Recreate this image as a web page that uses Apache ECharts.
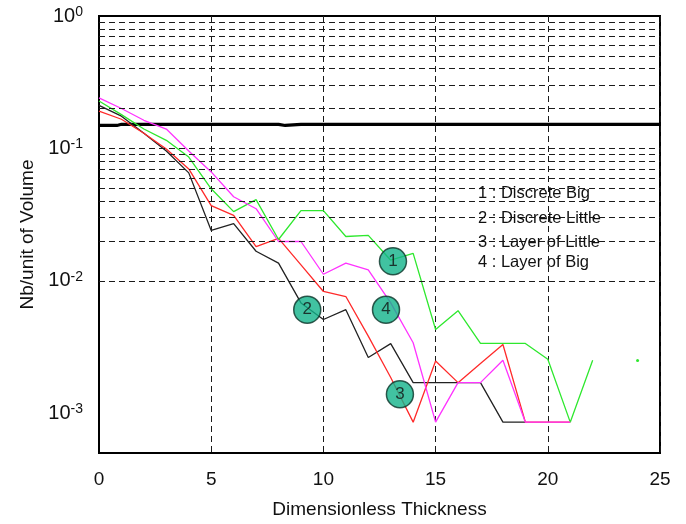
<!DOCTYPE html>
<html><head><meta charset="utf-8">
<script src="https://cdn.jsdelivr.net/npm/echarts@6/dist/echarts.min.js"></script>
<style>html,body{margin:0;padding:0;background:#fff}#c{width:686px;height:524px}</style>
</head><body><div id="c"></div>
<script>
// ---- data ----
const xSteps = [0,1,2,3,4,5,6,7,8,9,10,11,12,13,14,15,16,17,18,19,20,21,22,23,24];
// 1 : Discrete Big (green)
const discreteBig = [0.228,0.18,0.14,0.115,0.086,0.0495,0.0333,0.041,0.0205,0.0339,0.0339,0.0216,0.022,0.0143,0.0161,0.00428,0.00594,0.00336,0.00336,0.00336,0.00255,0.000855,0.00251,null,0.0025];
// 2 : Discrete Little (black)
const discreteLittle = [0.211,0.175,0.13,0.0955,0.0653,0.024,0.027,0.0167,0.0136,0.0068,0.0051,0.00605,0.00263,0.00335,0.0017,0.0017,0.0017,0.0017,0.000855,0.000855];
// 3 : Layer of Little (red)
const layerLittle = [0.191,0.166,0.13,0.0989,0.07,0.0369,0.0312,0.0181,0.0209,0.0132,0.0083,0.0076,0.00382,0.00186,0.000855,0.00248,0.0017,0.00237,0.0033,0.000855,0.000855,0.000855];
// 4 : Layer of Big (magenta)
const layerBig = [0.241,0.2,0.163,0.14,0.0955,0.0664,0.0431,0.035,0.0198,0.0198,0.0112,0.0136,0.0121,0.0068,0.0034,0.000855,0.0017,0.0017,0.00251,0.000855,0.000855,0.000855];
// thick horizontal reference line
const refX = [0,0.8,1,8,8.3,9,25];
const refY = [0.149,0.149,0.152,0.152,0.149,0.152,0.152];
// numbered callouts
const calloutNames = ['1','2','3','4'];
const calloutX = [13.1,9.28,13.41,12.79];
const calloutY = [0.01403,0.00605,0.00139,0.00605];
const legendLabels = ['1 : Discrete Big','2 : Discrete Little','3 : Layer of Little','4 : Layer of Big'];
const xTicks = [0,5,10,15,20,25];
const xTitle = 'Dimensionless Thickness';
const yTitle = 'Nb/unit of Volume';
const yMin = 0.0005, yMax = 1;

// log grid lines (1..9 x 10^k)
const yGrid = [];
for (let k = -4; k <= -1; k++) for (let m = 1; m <= 9; m++) {
  const v = +(m * Math.pow(10, k)).toPrecision(3);
  if (v > yMin && v < yMax) yGrid.push(v);
}
const pairs = (ys) => ys.map((y, i) => [xSteps[i], y]);

const chart = echarts.init(document.getElementById('c'), null, {renderer: 'canvas'});
const font = 'Liberation Sans, Arial, sans-serif';
const dashStyle = {color: '#1a1a1a', width: 1, type: [6, 4]};

const lineSeries = (name, ys, color) => ({
  name, type: 'line', data: pairs(ys), symbol: 'none', connectNulls: false,
  lineStyle: {color, width: 1.3}, silent: true, animation: false, z: 3
});

const greenData = pairs(discreteBig).map((p, i) =>
  (i === xSteps.length - 1) ? {value: p, symbol: 'circle', symbolSize: 3, itemStyle: {color: '#2ee82e'}} : p);

chart.setOption({
  animation: false,
  grid: {left: 99, right: 26, top: 16, bottom: 68, show: true, borderColor: '#000', borderWidth: 2, backgroundColor: 'transparent'},
  xAxis: {
    type: 'value', min: 0, max: 25, interval: 5,
    name: xTitle, nameLocation: 'middle', nameGap: 47,
    nameTextStyle: {fontSize: 19, fontFamily: font, color: '#111'},
    axisLine: {show: true, onZero: false, lineStyle: {color: '#000', width: 2}},
    axisTick: {show: false},
    axisLabel: {fontSize: 19, fontFamily: font, color: '#111', margin: 17,
      formatter: v => xTicks.includes(v) ? String(v) : ''},
    splitLine: {show: true, lineStyle: dashStyle}
  },
  yAxis: {
    type: 'log', logBase: 10, min: yMin, max: yMax,
    name: yTitle, nameLocation: 'middle', nameGap: 57,
    nameTextStyle: {fontSize: 19, fontFamily: font, color: '#111'},
    axisLine: {show: true, lineStyle: {color: '#000', width: 2}},
    axisTick: {show: false},
    splitLine: {show: false},
    axisLabel: {
      margin: 16, color: '#111',
      formatter: v => {
        const l = Math.log10(v), e = Math.round(l);
        if (Math.abs(l - e) > 1e-6) return '';
        return '{b|10}{s|' + e + '}';
      },
      rich: {
        b: {fontSize: 20, fontFamily: font, color: '#111'},
        s: {fontSize: 14, fontFamily: font, color: '#111', verticalAlign: 'top', padding: [0, 0, 8, 0]}
      }
    }
  },
  series: [
    {
      name: 'grid', type: 'line', data: [], silent: true, z: 1,
      markLine: {
        silent: true, symbol: 'none', animation: false,
        label: {show: false},
        lineStyle: dashStyle,
        data: yGrid.map(v => ({yAxis: v}))
      }
    },
    {
      name: 'ref', type: 'line', data: refX.map((x, i) => [x, refY[i]]), symbol: 'none',
      lineStyle: {color: '#000', width: 3.2}, silent: true, z: 2
    },
    lineSeries('Discrete Little', discreteLittle, '#222222'),
    lineSeries('Layer of Little', layerLittle, '#ff2a2a'),
    Object.assign(lineSeries('Discrete Big', discreteBig, '#2ee82e'), {data: greenData}),
    lineSeries('Layer of Big', layerBig, '#ff33ff'),
    {
      name: 'callouts', type: 'scatter', z: 5, silent: true,
      data: calloutNames.map((n, i) => ({name: n, value: [calloutX[i], calloutY[i]]})),
      symbol: 'circle', symbolSize: 27,
      itemStyle: {color: '#12b389', borderColor: '#0b3328', borderWidth: 1.5},
      label: {show: true, position: 'inside', formatter: p => p.name, fontSize: 17, fontFamily: font, color: '#111'}
    }
  ],
  graphic: legendLabels.map((t, i) => ({
    type: 'text', left: 478, top: [185, 210, 234, 254][i], silent: true, z: 10,
    style: {text: t, font: '16.5px ' + font, fill: '#111'}
  }))
});
</script>
</body></html>
